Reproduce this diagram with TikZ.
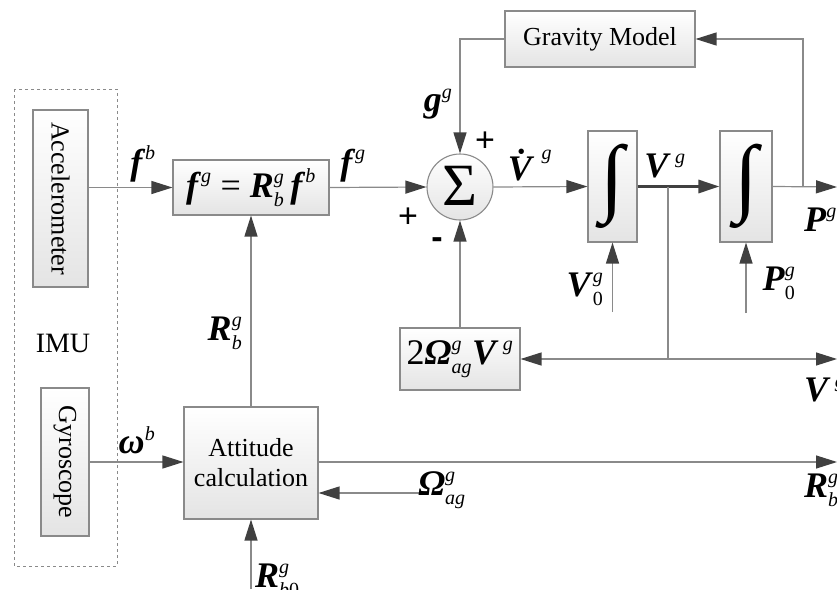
\RequirePackage{fix-cm}
\documentclass[tikz,border=0pt]{standalone}
\usepackage{fontspec}
\setmainfont{Liberation Serif}
\newfontfamily\sansf{Liberation Sans}
\usetikzlibrary{arrows.meta,calc}
\definecolor{ln}{HTML}{8A8A8A}
\definecolor{hd}{HTML}{404040}
\definecolor{bx}{HTML}{E4E4E4}
\newcommand{\bv}[1]{\textbf{\textit{#1}}}
\newcommand{\scr}[1]{\mbox{\fontsize{20}{20}\selectfont\textit{#1}}}
\newcommand{\scu}[1]{\mbox{\fontsize{20}{20}\selectfont #1}}
\newcommand{\mfont}{\fontsize{36}{40}\selectfont}
\newcommand{\tfont}{\fontsize{26}{30}\selectfont}
\tikzset{
  blk/.style={draw=ln, line width=1.1pt, top color=white, bottom color=bx, inner sep=0pt},
  conn/.style={draw=ln, line width=1.2pt},
  arr/.style={conn, -{Triangle[length=21pt,width=13pt,color=hd]}},
  lbl/.style={inner sep=0pt},
  sgn/.style={inner sep=0pt, font=\sansf\fontsize{34}{34}\selectfont}
}
\begin{document}
\begin{tikzpicture}[x=1pt,y=-1pt]
\useasboundingbox (0,0) rectangle (837,589);
% IMU group
\draw[ln, line width=1pt, dashed] (14,89) rectangle (117,566);
\node[lbl, font=\fontsize{28}{30}\selectfont] (imu) at (63,343) {IMU};
\node[blk, minimum width=55pt, minimum height=177pt,
      label={[rotate=-90, font=\tfont]center:Accelerometer}] (acc) at (60.5,198.5) {};
\node[blk, minimum width=48pt, minimum height=148pt,
      label={[rotate=-90, font=\tfont]center:Gyroscope}] (gyr) at (65,462) {};
% blocks
\node[blk, minimum width=156pt, minimum height=55pt, font=\mfont] (fg) at (251,187.5)
  {$\bv{f}^{\scr{g}}\ \mbox{=}\ \bv{R}^{\scr{g}}_{\scr{b}}\,\bv{f}^{\scr{b}}$};
\node[blk, circle, minimum size=66pt] (sum) at (460,187) {};
\node[lbl, font=\fontsize{60}{60}\selectfont] (sig) at (460,186) {Σ};
\node[blk, minimum width=190pt, minimum height=56pt, font=\tfont] (grav) at (600,39) {Gravity Model};
\node[blk, minimum width=49pt, minimum height=111pt] (int1) at (612.5,186.5) {};
\node[lbl, font=\fontsize{86}{86}\selectfont] (i1) at (612.5,186.5) {∫};
\node[blk, minimum width=52pt, minimum height=111pt] (int2) at (746,186.5) {};
\node[lbl, font=\fontsize{86}{86}\selectfont] (i2) at (746,186.5) {∫};
\node[blk, minimum width=120pt, minimum height=62pt, font=\mfont] (cor) at (460,359)
  {$\mbox{2}\bv{Ω}^{\scr{g}}_{\scr{ag}}\bv{V}^{\,\scr{g}}$};
\node[blk, minimum width=134pt, minimum height=112pt, align=center, font=\tfont] (att) at (251,463)
  {Attitude\\calculation};
% free ends
\coordinate (pout) at (837,187);
\coordinate (pbr) at (803,187);
\coordinate (vbr) at (668,187);
\coordinate (vdn) at (668,359);
\coordinate (vout) at (837,359);
\coordinate (v0) at (612.5,312);
\coordinate (p0) at (746,313);
\coordinate (rout) at (837,462);
\coordinate (om) at (420,493);
\coordinate (rb0) at (251,589);
% connectors
\draw[arr] (acc.east |- fg.west) -- (fg.west);
\draw[arr] (gyr.east) -- (gyr.east -| att.west);
\draw[arr] (fg.east) -- (sum.west);
\draw[arr] (grav.west) -| (sum.north);
\draw[arr] (sum.east) -- (int1.west);
\draw[hd, line width=3pt, -{Triangle[length=21pt,width=13pt,color=hd]}] (int1.east) -- (int2.west);
\draw[arr] (int2.east) -- (pout);
\draw[arr] (pbr) |- (grav.east);
\draw[conn] (vbr) -- (vdn);
\draw[arr] (vdn) -- (cor.east);
\draw[arr] (vdn) -- (vout);
\draw[arr] (cor.north) -- (sum.south);
\draw[arr] (v0) -- (int1.south);
\draw[arr] (p0) -- (int2.south);
\draw[arr] (att.north) -- (fg.south);
\draw[arr] (gyr.east -| att.east) -- (rout);
\draw[arr] (om) -- (om -| att.east);
\draw[arr] (rb0) -- (att.south);
% labels
\node[lbl, font=\mfont] (lfb) at (143,164) {$\bv{f}^{\scr{b}}$};
\node[lbl, font=\mfont] (lfg) at (353,166) {$\bv{f}^{\scr{g}}$};
\node[sgn] (plus1) at (408,218) {+};
\node[lbl, font=\mfont] (lgg) at (438,104) {$\bv{g}^{\scr{g}}$};
\node[sgn] (plus2) at (485,142) {+};
\node[sgn, font=\sansf\bfseries\fontsize{34}{34}\selectfont] (minus) at (437,243) {-};
\node[lbl, font=\mfont] (lvd) at (530,165) {$\bv{\.{V}}^{\,\scr{g}}$};
\node[lbl, font=\mfont] (lvg) at (665,166) {$\bv{V}^{\,\scr{g}}$};
\node[lbl, font=\mfont, anchor=west] (lpg) at (804,220) {$\bv{P}^{\scr{g}}$};
\node[lbl, font=\mfont] (lv0) at (585,289) {$\bv{V}^{\scr{g}}_{\scu{0}}$};
\node[lbl, font=\mfont] (lp0) at (779,283) {$\bv{P}^{\scr{g}}_{\scu{0}}$};
\node[lbl, font=\mfont, anchor=west] (lvg2) at (804,390) {$\bv{V}^{\,\scr{g}}$};
\node[lbl, font=\mfont] (lom) at (442,490) {$\bv{Ω}^{\scr{g}}_{\scr{ag}}$};
\node[lbl, font=\mfont, anchor=west] (lrb) at (804,490) {$\bv{R}^{\scr{g}}_{\scr{b}}$};
\node[lbl, font=\mfont] (lrbl) at (225,333) {$\bv{R}^{\scr{g}}_{\scr{b}}$};
\node[lbl, font=\mfont] (lw) at (137,440) {$\bv{ω}^{\scr{b}}$};
\node[lbl, font=\mfont, anchor=west] (lrb0) at (255,580) {$\bv{R}^{\scr{g}}_{\scr{b}\scu{0}}$};
\end{tikzpicture}
\end{document}
